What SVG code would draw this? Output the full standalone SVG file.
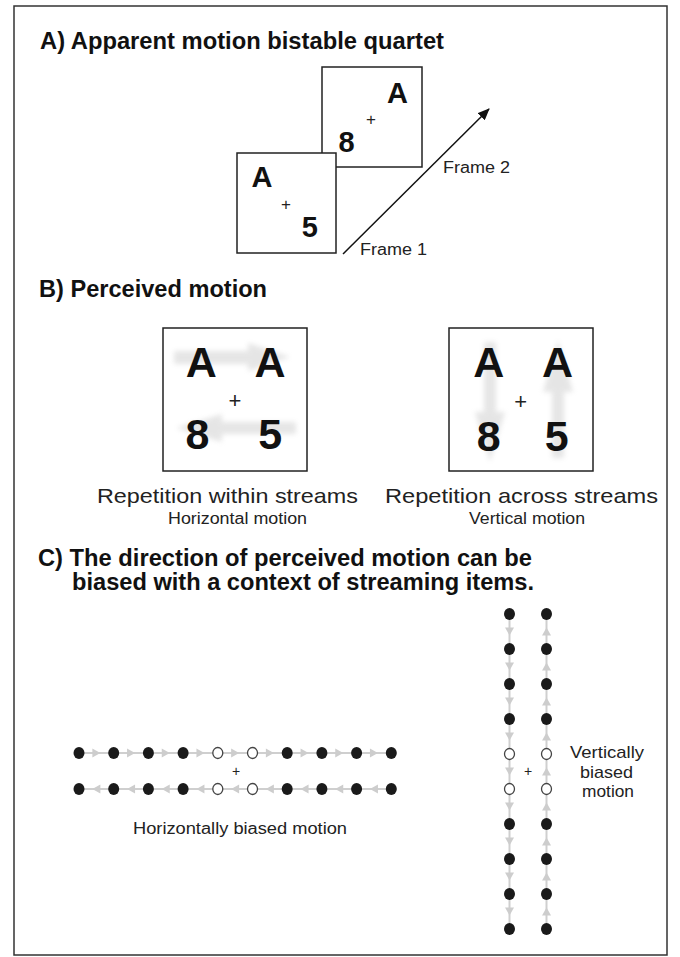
<svg xmlns="http://www.w3.org/2000/svg" xmlns:xlink="http://www.w3.org/1999/xlink" width="680" height="957" viewBox="0 0 680 957">
<style>
.title{font-family:"Liberation Sans",Arial,sans-serif;font-weight:bold;font-size:23px;fill:#111}
.big{font-family:"Liberation Sans",Arial,sans-serif;font-weight:bold;fill:#111;text-anchor:middle}
.lbl{font-family:"Liberation Sans",Arial,sans-serif;fill:#222}
.plus{font-family:"Liberation Sans",Arial,sans-serif;fill:#222;text-anchor:middle}
.frame{fill:#fff;stroke:#222;stroke-width:1.5}
.dot{fill:#1a1a1a}
.odot{fill:#fff;stroke:#444;stroke-width:1.3}
.stem{stroke:#cfcfcf;stroke-width:2;fill:none}
.ah{fill:#cdcdcd}
.smudge{fill:#bdbdbd;opacity:0.38;filter:url(#blur)}
</style>
<defs>
<filter id="blur" x="-20%" y="-20%" width="140%" height="140%"><feGaussianBlur stdDeviation="2.5"/></filter>
<marker id="arr" viewBox="0 0 12 10" refX="11" refY="5" markerWidth="12" markerHeight="10" markerUnits="userSpaceOnUse" orient="auto"><path d="M0,0 L12,5 L0,10 Z" fill="#111"/></marker>
<path id="tr" d="M-4,-4.5 L4,0 L-4,4.5 Z"/>
<path id="tl" d="M4,-4.5 L-4,0 L4,4.5 Z"/>
<path id="td" d="M-4.5,-4 L0,4 L4.5,-4 Z"/>
<path id="tu" d="M-4.5,4 L0,-4 L4.5,4 Z"/>
</defs>
<rect x="0" y="0" width="680" height="957" fill="#fff"/>
<rect x="14" y="6" width="653" height="949" fill="none" stroke="#333" stroke-width="1.5"/>

<!-- Section A -->
<text class="title" x="40" y="49" textLength="404" lengthAdjust="spacingAndGlyphs">A) Apparent motion bistable quartet</text>
<g id="frame2">
<rect class="frame" x="322" y="67" width="100" height="100"/>
<text class="big" x="397.5" y="103" font-size="29">A</text>
<text class="plus" x="371" y="125" font-size="17">+</text>
<text class="big" x="346.5" y="152" font-size="29">8</text>
</g>
<g id="frame1">
<rect class="frame" x="237" y="153" width="99" height="100"/>
<text class="big" x="262" y="187" font-size="29">A</text>
<text class="plus" x="286" y="210" font-size="17">+</text>
<text class="big" x="309.7" y="236.7" font-size="29">5</text>
</g>
<g id="frame-labels">
<text class="lbl" x="443" y="173" font-size="16" textLength="67" lengthAdjust="spacingAndGlyphs">Frame 2</text>
<text class="lbl" x="360" y="255" font-size="16" textLength="67" lengthAdjust="spacingAndGlyphs">Frame 1</text>
</g>

<!-- Section B -->
<text class="title" x="39" y="297" textLength="228" lengthAdjust="spacingAndGlyphs">B) Perceived motion</text>
<g id="horizontal-box">
<rect class="frame" x="163" y="328" width="144" height="143"/>
<polygon class="smudge" points="174,351 248,351 248,343 290,357 248,371 248,364 174,364"/>
<polygon class="smudge" points="296,422 222,422 222,414 176,428 222,442 222,434 296,434"/>
<text class="big" x="201.3" y="376.7" font-size="43">A</text>
<text class="big" x="270" y="376.7" font-size="43">A</text>
<text class="plus" x="235" y="407.5" font-size="22">+</text>
<text class="big" x="197.5" y="449.3" font-size="43">8</text>
<text class="big" x="270.3" y="449.3" font-size="43">5</text>
</g>
<g id="vertical-box">
<rect class="frame" x="449" y="328" width="144" height="143"/>
<polygon class="smudge" points="484,342 496,342 496,412 505,412 490,462 475,412 484,412"/>
<polygon class="smudge" points="558,340 573,392 564,392 564,458 552,458 552,392 543,392"/>
<text class="big" x="488.7" y="376.7" font-size="43">A</text>
<text class="big" x="557.5" y="376.7" font-size="43">A</text>
<text class="plus" x="520.7" y="409.2" font-size="22">+</text>
<text class="big" x="488.8" y="451" font-size="43">8</text>
<text class="big" x="556.7" y="451" font-size="43">5</text>
</g>
<g id="captions-b">
<text class="lbl" x="97" y="503" font-size="21" textLength="261" lengthAdjust="spacingAndGlyphs">Repetition within streams</text>
<text class="lbl" x="168" y="524" font-size="16" textLength="139" lengthAdjust="spacingAndGlyphs">Horizontal motion</text>
<text class="lbl" x="385" y="503" font-size="21" textLength="273" lengthAdjust="spacingAndGlyphs">Repetition across streams</text>
<text class="lbl" x="469" y="524" font-size="16" textLength="116" lengthAdjust="spacingAndGlyphs">Vertical motion</text>
</g>

<!-- Section C -->
<text class="title" x="38" y="566" textLength="494" lengthAdjust="spacingAndGlyphs">C) The direction of perceived motion can be</text>
<text class="title" x="72" y="590" textLength="462" lengthAdjust="spacingAndGlyphs">biased with a context of streaming items.</text>

<g id="connectors">
<line class="frame-arrow" x1="343" y1="254" x2="489" y2="109" stroke="#111" stroke-width="1.5" marker-end="url(#arr)"/>
<line class="stem" x1="84" y1="753" x2="386" y2="753"/>
<line class="stem" x1="84" y1="789" x2="386" y2="789"/>
<line class="stem" x1="509.5" y1="619" x2="509.5" y2="924"/>
<line class="stem" x1="546.5" y1="619" x2="546.5" y2="924"/>
<g class="ah">
<use xlink:href="#tr" x="96.35" y="753"/><use xlink:href="#tr" x="131.05" y="753"/><use xlink:href="#tr" x="165.75" y="753"/><use xlink:href="#tr" x="200.45" y="753"/><use xlink:href="#tr" x="235.15" y="753"/><use xlink:href="#tr" x="269.85" y="753"/><use xlink:href="#tr" x="304.55" y="753"/><use xlink:href="#tr" x="339.25" y="753"/><use xlink:href="#tr" x="373.95" y="753"/>
<use xlink:href="#tl" x="96.35" y="789"/><use xlink:href="#tl" x="131.05" y="789"/><use xlink:href="#tl" x="165.75" y="789"/><use xlink:href="#tl" x="200.45" y="789"/><use xlink:href="#tl" x="235.15" y="789"/><use xlink:href="#tl" x="269.85" y="789"/><use xlink:href="#tl" x="304.55" y="789"/><use xlink:href="#tl" x="339.25" y="789"/><use xlink:href="#tl" x="373.95" y="789"/>
<use xlink:href="#td" x="509.5" y="631.5"/><use xlink:href="#td" x="509.5" y="666.5"/><use xlink:href="#td" x="509.5" y="701.5"/><use xlink:href="#td" x="509.5" y="736.5"/><use xlink:href="#td" x="509.5" y="771.5"/><use xlink:href="#td" x="509.5" y="806.5"/><use xlink:href="#td" x="509.5" y="841.5"/><use xlink:href="#td" x="509.5" y="876.5"/><use xlink:href="#td" x="509.5" y="911.5"/>
<use xlink:href="#tu" x="546.5" y="631.5"/><use xlink:href="#tu" x="546.5" y="666.5"/><use xlink:href="#tu" x="546.5" y="701.5"/><use xlink:href="#tu" x="546.5" y="736.5"/><use xlink:href="#tu" x="546.5" y="771.5"/><use xlink:href="#tu" x="546.5" y="806.5"/><use xlink:href="#tu" x="546.5" y="841.5"/><use xlink:href="#tu" x="546.5" y="876.5"/><use xlink:href="#tu" x="546.5" y="911.5"/>
</g>
</g>

<g id="horizontal-streams">
<ellipse class="dot" cx="79" cy="753" rx="5.5" ry="6"/><ellipse class="dot" cx="113.7" cy="753" rx="5.5" ry="6"/><ellipse class="dot" cx="148.4" cy="753" rx="5.5" ry="6"/><ellipse class="dot" cx="183.1" cy="753" rx="5.5" ry="6"/>
<ellipse class="odot" cx="217.8" cy="753" rx="5" ry="5.5"/><ellipse class="odot" cx="252.5" cy="753" rx="5" ry="5.5"/>
<ellipse class="dot" cx="287.2" cy="753" rx="5.5" ry="6"/><ellipse class="dot" cx="321.9" cy="753" rx="5.5" ry="6"/><ellipse class="dot" cx="356.6" cy="753" rx="5.5" ry="6"/><ellipse class="dot" cx="391.3" cy="753" rx="5.5" ry="6"/>
<ellipse class="dot" cx="79" cy="789" rx="5.5" ry="6"/><ellipse class="dot" cx="113.7" cy="789" rx="5.5" ry="6"/><ellipse class="dot" cx="148.4" cy="789" rx="5.5" ry="6"/><ellipse class="dot" cx="183.1" cy="789" rx="5.5" ry="6"/>
<ellipse class="odot" cx="217.8" cy="789" rx="5" ry="5.5"/><ellipse class="odot" cx="252.5" cy="789" rx="5" ry="5.5"/>
<ellipse class="dot" cx="287.2" cy="789" rx="5.5" ry="6"/><ellipse class="dot" cx="321.9" cy="789" rx="5.5" ry="6"/><ellipse class="dot" cx="356.6" cy="789" rx="5.5" ry="6"/><ellipse class="dot" cx="391.3" cy="789" rx="5.5" ry="6"/>
<text class="plus" x="236" y="776" font-size="14">+</text>
<text class="lbl" x="133" y="834" font-size="16" textLength="214" lengthAdjust="spacingAndGlyphs">Horizontally biased motion</text>
</g>

<g id="vertical-streams">
<ellipse class="dot" cx="509.5" cy="614" rx="5.5" ry="6"/><ellipse class="dot" cx="509.5" cy="649" rx="5.5" ry="6"/><ellipse class="dot" cx="509.5" cy="684" rx="5.5" ry="6"/><ellipse class="dot" cx="509.5" cy="719" rx="5.5" ry="6"/>
<ellipse class="odot" cx="509.5" cy="754" rx="5" ry="5.5"/><ellipse class="odot" cx="509.5" cy="789" rx="5" ry="5.5"/>
<ellipse class="dot" cx="509.5" cy="824" rx="5.5" ry="6"/><ellipse class="dot" cx="509.5" cy="859" rx="5.5" ry="6"/><ellipse class="dot" cx="509.5" cy="894" rx="5.5" ry="6"/><ellipse class="dot" cx="509.5" cy="929" rx="5.5" ry="6"/>
<ellipse class="dot" cx="546.5" cy="614" rx="5.5" ry="6"/><ellipse class="dot" cx="546.5" cy="649" rx="5.5" ry="6"/><ellipse class="dot" cx="546.5" cy="684" rx="5.5" ry="6"/><ellipse class="dot" cx="546.5" cy="719" rx="5.5" ry="6"/>
<ellipse class="odot" cx="546.5" cy="754" rx="5" ry="5.5"/><ellipse class="odot" cx="546.5" cy="789" rx="5" ry="5.5"/>
<ellipse class="dot" cx="546.5" cy="824" rx="5.5" ry="6"/><ellipse class="dot" cx="546.5" cy="859" rx="5.5" ry="6"/><ellipse class="dot" cx="546.5" cy="894" rx="5.5" ry="6"/><ellipse class="dot" cx="546.5" cy="929" rx="5.5" ry="6"/>
<text class="plus" x="528" y="776" font-size="14">+</text>
<text class="lbl" x="570" y="758" font-size="17" textLength="74" lengthAdjust="spacingAndGlyphs">Vertically</text>
<text class="lbl" x="580" y="778" font-size="17" textLength="53" lengthAdjust="spacingAndGlyphs">biased</text>
<text class="lbl" x="582" y="797" font-size="17" textLength="52" lengthAdjust="spacingAndGlyphs">motion</text>
</g>
</svg>
